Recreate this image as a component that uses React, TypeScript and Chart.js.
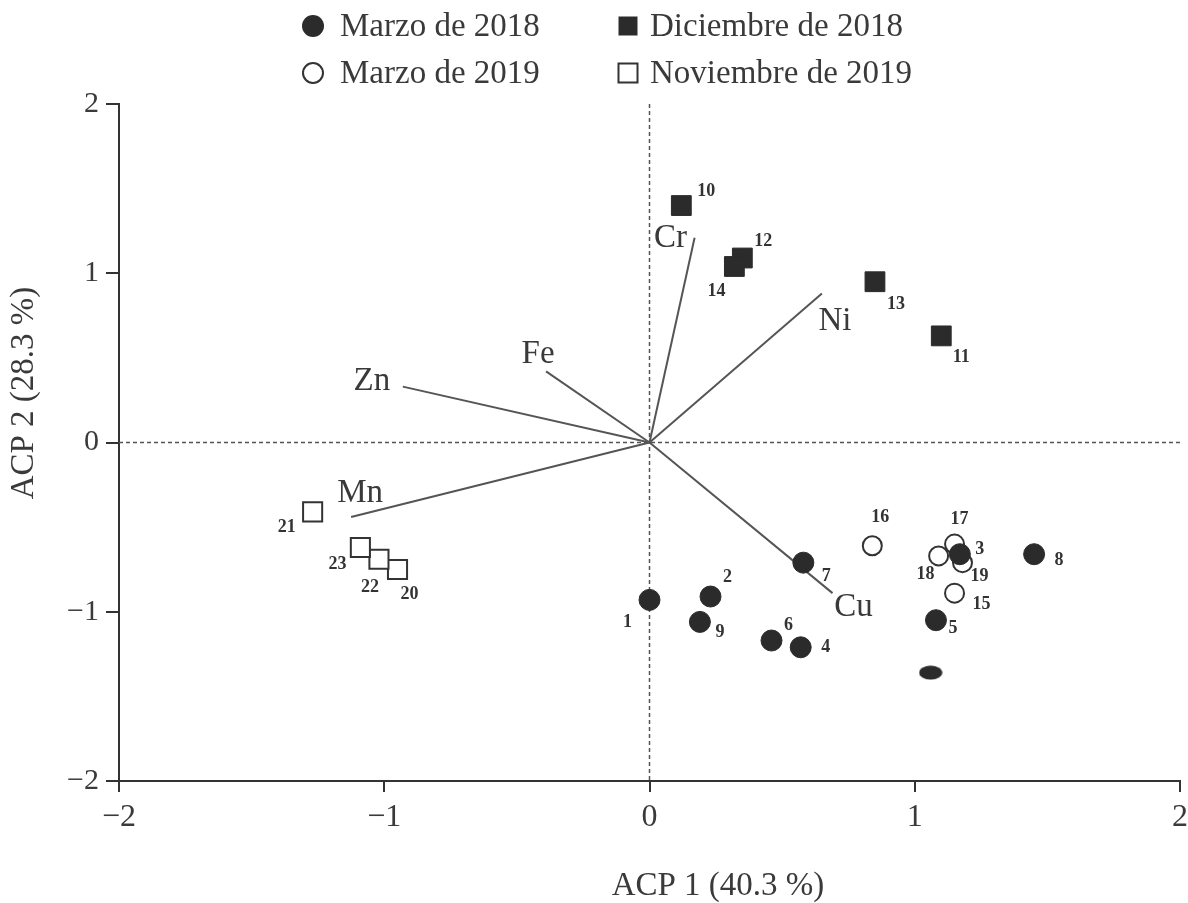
import React, { useEffect, useRef } from "react";
import { Chart, registerables } from "chart.js";

Chart.register(...registerables);

const FONT = '"Liberation Serif", "Times New Roman", serif';

// ---- Data ----
const marzo2018Ids = ["1", "2", "3", "4", "5", "6", "7", "8", "9"];
const marzo2018X = [0.0, 0.23, 1.17, 0.57, 1.08, 0.46, 0.58, 1.45, 0.19];
const marzo2018Y = [-0.93, -0.91, -0.66, -1.21, -1.05, -1.17, -0.71, -0.66, -1.06];

const dic2018Ids = ["10", "11", "12", "13", "14"];
const dic2018X = [0.12, 1.1, 0.35, 0.85, 0.32];
const dic2018Y = [1.4, 0.63, 1.09, 0.95, 1.04];

const mar2019Ids = ["15", "16", "17", "18", "19"];
const mar2019X = [1.15, 0.84, 1.15, 1.09, 1.18];
const mar2019Y = [-0.89, -0.61, -0.6, -0.67, -0.71];

const nov2019Ids = ["20", "21", "22", "23"];
const nov2019X = [-0.95, -1.27, -1.02, -1.09];
const nov2019Y = [-0.75, -0.41, -0.69, -0.62];

// unlabeled (partly hidden) marker
const extraX = [1.06];
const extraY = [-1.36];

const variables = ["Cr", "Ni", "Fe", "Zn", "Mn", "Cu"];
const loadingX = [0.17, 0.65, -0.39, -0.93, -1.125, 0.69];
const loadingY = [1.21, 0.88, 0.42, 0.33, -0.44, -0.89];

const xTicks = [-2, -1, 0, 1, 2];
const yTicks = [-2, -1, 0, 1, 2];

const seriesNames = ["Marzo de 2018", "Diciembre de 2018", "Marzo de 2019", "Noviembre de 2019"];
const xTitle = "ACP 1 (40.3 %)";
const yTitle = "ACP 2 (28.3 %)";

// ---- label placement (pixel offsets from the marker) ----
const pointLabelOffset: Record<string, [number, number]> = {
  "1": [-22, 22], "2": [17, -19], "3": [20, -5], "4": [25, 0], "5": [17, 8],
  "6": [17, -15], "7": [23, 14], "8": [25, 6], "9": [20, 10],
  "10": [25, -14], "11": [20, 21], "12": [21, -17], "13": [21, 23], "14": [-18, 25],
  "15": [27, 11], "16": [8, -28], "17": [5, -25], "18": [-13, 18], "19": [17, 14],
  "20": [12, 25], "21": [-26, 15], "22": [-9, 28], "23": [-23, 17],
};
const varLabelOffset: Record<string, [number, number]> = {
  Cr: [-24, 1], Ni: [13, 28], Fe: [-8, -17], Zn: [-31, -5], Mn: [9, -24], Cu: [21, 14],
};

const DARK = "#2b2b2b";
const INK = "#333333";

const toPts = (xs: number[], ys: number[]) => xs.map((x, i) => ({ x, y: ys[i] }));
const fmt = (v: number) => (v < 0 ? "\u2212" + Math.abs(v) : String(v));

export default function App() {
  const ref = useRef<HTMLCanvasElement>(null);

  useEffect(() => {
    document.body.style.margin = "0";
    const canvas = ref.current!;

    const ell = document.createElement("canvas");
    ell.width = 24;
    ell.height = 15;
    const ec = ell.getContext("2d")!;
    ec.fillStyle = DARK;
    ec.beginPath();
    ec.ellipse(12, 7.5, 11.5, 7, 0, 0, Math.PI * 2);
    ec.fill();

    const labeled: { ids: string[]; dsIndex: number }[] = [];

    const datasets: any[] = [];
    // vectors
    variables.forEach((v, i) => {
      datasets.push({
        label: v,
        data: [{ x: 0, y: 0 }, { x: loadingX[i], y: loadingY[i] }],
        showLine: true,
        borderColor: "#555555",
        borderWidth: 2,
        pointRadius: 0,
        order: 20,
      });
    });
    datasets.push({
      label: "extra",
      data: toPts(extraX, extraY),
      pointStyle: ell,
      order: 6,
    });
    labeled.push({ ids: marzo2018Ids, dsIndex: datasets.length });
    datasets.push({
      label: seriesNames[0],
      data: toPts(marzo2018X, marzo2018Y),
      pointStyle: "circle",
      pointRadius: 10.5,
      backgroundColor: DARK,
      borderColor: DARK,
      borderWidth: 1,
      order: 2,
    });
    labeled.push({ ids: dic2018Ids, dsIndex: datasets.length });
    datasets.push({
      label: seriesNames[1],
      data: toPts(dic2018X, dic2018Y),
      pointStyle: "rect",
      pointRadius: 14,
      backgroundColor: DARK,
      borderColor: DARK,
      borderWidth: 1,
      order: 4,
    });
    labeled.push({ ids: mar2019Ids, dsIndex: datasets.length });
    datasets.push({
      label: seriesNames[2],
      data: toPts(mar2019X, mar2019Y),
      pointStyle: "circle",
      pointRadius: 9.5,
      backgroundColor: "#ffffff",
      borderColor: INK,
      borderWidth: 2,
      order: 5,
    });
    labeled.push({ ids: nov2019Ids, dsIndex: datasets.length });
    datasets.push({
      label: seriesNames[3],
      data: toPts(nov2019X, nov2019Y),
      pointStyle: "rect",
      pointRadius: 13.5,
      backgroundColor: "#ffffff",
      borderColor: INK,
      borderWidth: 2,
      order: 3,
    });

    const decor = {
      id: "decor",
      beforeDatasetsDraw(chart: any) {
        const { ctx, chartArea, scales } = chart;
        const x0 = scales.x.getPixelForValue(0);
        const y0 = scales.y.getPixelForValue(0);
        ctx.save();
        ctx.strokeStyle = "#555555";
        ctx.lineWidth = 1.5;
        ctx.setLineDash([4, 3]);
        ctx.beginPath();
        ctx.moveTo(chartArea.left, y0);
        ctx.lineTo(chartArea.right, y0);
        ctx.moveTo(x0, chartArea.top);
        ctx.lineTo(x0, chartArea.bottom);
        ctx.stroke();
        ctx.restore();
      },
      afterDatasetsDraw(chart: any) {
        const { ctx, scales } = chart;
        ctx.save();
        // variable labels
        ctx.fillStyle = "#3a3a3a";
        ctx.font = `33px ${FONT}`;
        ctx.textAlign = "center";
        ctx.textBaseline = "middle";
        variables.forEach((v, i) => {
          const px = scales.x.getPixelForValue(loadingX[i]);
          const py = scales.y.getPixelForValue(loadingY[i]);
          const o = varLabelOffset[v];
          ctx.fillText(v, px + o[0], py + o[1]);
        });
        // point ids
        ctx.fillStyle = INK;
        ctx.font = `bold 18px ${FONT}`;
        labeled.forEach(({ ids, dsIndex }) => {
          const meta = chart.getDatasetMeta(dsIndex);
          meta.data.forEach((el: any, i: number) => {
            const o = pointLabelOffset[ids[i]];
            ctx.fillText(ids[i], el.x + o[0], el.y + o[1]);
          });
        });
        ctx.restore();
      },
      afterDraw(chart: any) {
        const { ctx } = chart;
        ctx.save();
        ctx.fillStyle = "#3a3a3a";
        ctx.font = `33px ${FONT}`;
        ctx.textBaseline = "middle";
        // axis titles
        ctx.textAlign = "center";
        ctx.fillText(xTitle, 718, 886);
        ctx.save();
        ctx.translate(24, 393);
        ctx.rotate(-Math.PI / 2);
        ctx.fillText(yTitle, 0, 0);
        ctx.restore();
        // legend
        ctx.textAlign = "left";
        const cols = [313, 628];
        const textX = [340, 650];
        const rows = [26, 73];
        const styles = [
          { shape: "circle", fill: true },
          { shape: "rect", fill: true },
          { shape: "circle", fill: false },
          { shape: "rect", fill: false },
        ];
        styles.forEach((s, i) => {
          const c = i % 2;
          const r = Math.floor(i / 2);
          const cx = cols[c];
          const cy = rows[r];
          ctx.beginPath();
          if (s.shape === "circle") {
            ctx.arc(cx, cy, s.fill ? 11 : 10, 0, Math.PI * 2);
          } else {
            ctx.rect(cx - 9.5, cy - 9.5, 19, 19);
          }
          if (s.fill) {
            ctx.fillStyle = DARK;
            ctx.fill();
          } else {
            ctx.fillStyle = "#ffffff";
            ctx.fill();
            ctx.strokeStyle = INK;
            ctx.lineWidth = 2;
            ctx.stroke();
          }
          ctx.fillStyle = "#3a3a3a";
          ctx.fillText(seriesNames[i], textX[c], cy + 1);
        });
        ctx.restore();
      },
    };

    const chart = new Chart(canvas, {
      type: "scatter",
      data: { datasets },
      options: {
        animation: false,
        responsive: false,
        devicePixelRatio: 1,
        layout: { autoPadding: false, padding: { top: 104, right: 8, left: 0, bottom: 0 } },
        plugins: { legend: { display: false }, tooltip: { enabled: false } },
        scales: {
          x: {
            type: "linear",
            min: -2,
            max: 2,
            afterBuildTicks: (s: any) => {
              s.ticks = xTicks.map((v) => ({ value: v }));
            },
            afterFit: (s: any) => {
              s.height = 122;
              s.paddingLeft = 0;
              s.paddingRight = 0;
            },
            ticks: {
              font: { family: FONT, size: 32 },
              color: "#3a3a3a",
              padding: 6,
              callback: (v: any) => fmt(Number(v)),
            },
            grid: { drawOnChartArea: false, drawTicks: true, tickLength: 11, color: INK, lineWidth: 2 },
            border: { display: true, color: INK, width: 2 },
          },
          y: {
            type: "linear",
            min: -2,
            max: 2,
            afterBuildTicks: (s: any) => {
              s.ticks = yTicks.map((v) => ({ value: v }));
            },
            afterFit: (s: any) => {
              s.width = 119;
              s.paddingTop = 0;
              s.paddingBottom = 0;
            },
            ticks: {
              font: { family: FONT, size: 30 },
              color: "#3a3a3a",
              padding: 7,
              callback: (v: any) => fmt(Number(v)),
            },
            grid: { drawOnChartArea: false, drawTicks: true, tickLength: 13, color: INK, lineWidth: 2 },
            border: { display: true, color: INK, width: 2 },
          },
        },
      },
      plugins: [decor],
    } as any);

    return () => chart.destroy();
  }, []);

  return (
    <div style={{ width: 1188, height: 903, background: "#ffffff" }}>
      <canvas ref={ref} width={1188} height={903} style={{ display: "block" }} />
    </div>
  );
}
